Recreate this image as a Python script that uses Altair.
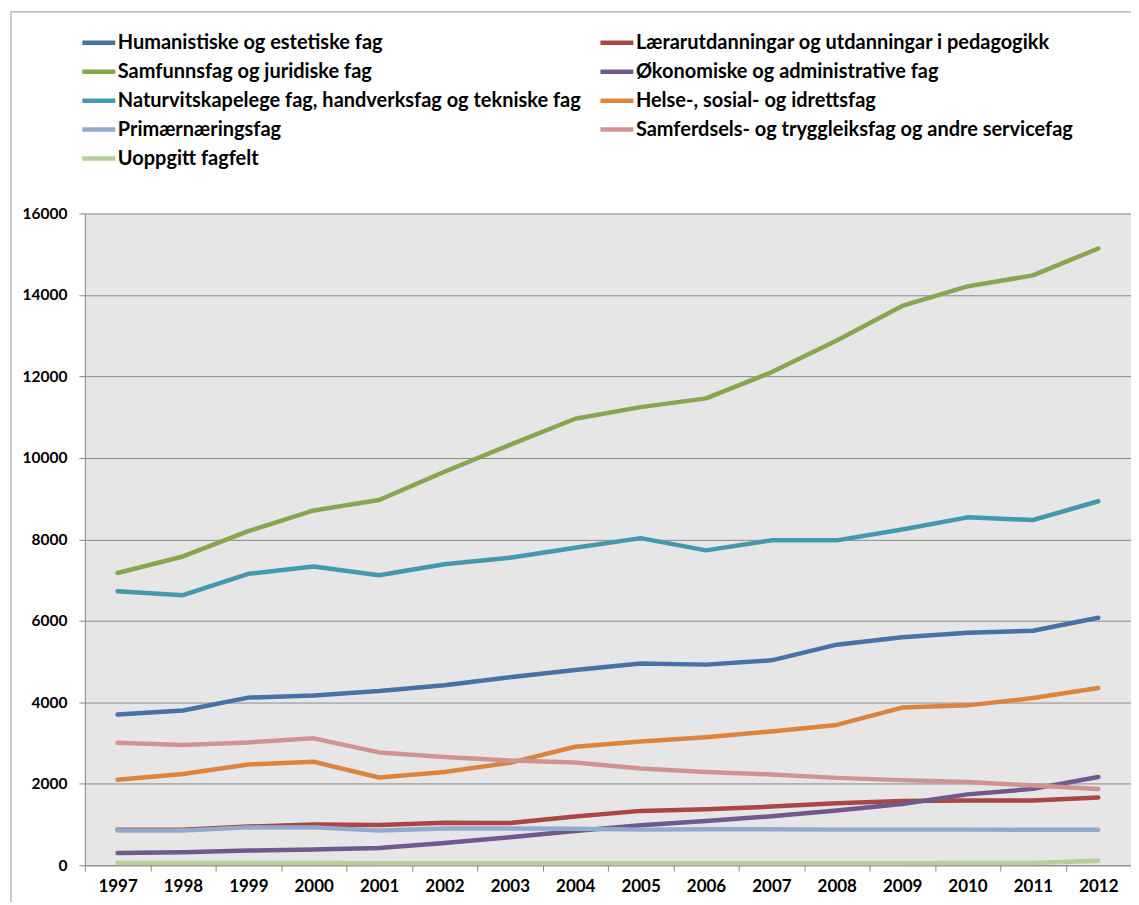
import altair as alt
import pandas as pd

years = [str(y) for y in range(1997, 2013)]

series_names = [
    "Humanistiske og estetiske fag",
    "Lærarutdanningar og utdanningar i pedagogikk",
    "Samfunnsfag og juridiske fag",
    "Økonomiske og administrative fag",
    "Naturvitskapelege fag, handverksfag og tekniske fag",
    "Helse-, sosial- og idrettsfag",
    "Primærnæringsfag",
    "Samferdsels- og tryggleiksfag og andre servicefag",
    "Uoppgitt fagfelt",
]

humanistiske = [3700, 3800, 4115, 4170, 4275, 4420, 4615, 4795, 4955, 4925, 5030, 5415, 5595, 5705, 5755, 6075]
laerar = [875, 875, 950, 1000, 990, 1045, 1035, 1195, 1335, 1375, 1440, 1525, 1580, 1590, 1590, 1665]
samfunnsfag = [7175, 7580, 8200, 8710, 8965, 9660, 10320, 10960, 11245, 11460, 12100, 12880, 13730, 14210, 14480, 15140]
okonomiske = [300, 320, 360, 385, 425, 545, 690, 840, 980, 1085, 1205, 1345, 1505, 1740, 1875, 2165]
naturvit = [6725, 6630, 7155, 7335, 7120, 7390, 7550, 7795, 8030, 7730, 7975, 7975, 8240, 8540, 8475, 8935]
helse = [2100, 2240, 2475, 2540, 2155, 2290, 2515, 2910, 3040, 3145, 3285, 3445, 3870, 3925, 4105, 4350]
primaer = [855, 855, 930, 930, 855, 905, 905, 895, 875, 885, 885, 875, 875, 875, 870, 870]
samferdsel = [3005, 2955, 3015, 3115, 2770, 2655, 2570, 2525, 2375, 2290, 2230, 2145, 2090, 2045, 1960, 1875]
uoppgitt = [55, 55, 55, 55, 50, 50, 50, 50, 50, 50, 50, 50, 50, 55, 55, 110]

series_values = [humanistiske, laerar, samfunnsfag, okonomiske, naturvit, helse, primaer, samferdsel, uoppgitt]

colors = ["#4572A7", "#AA4643", "#89A54E", "#71588F", "#4198AF", "#DB843D", "#93A9CF", "#D19392", "#B9CD96"]
widths = [4.5, 4.5, 6, 4.5, 4.5, 4.5, 4.5, 4.5, 4.5]

y_ticks = list(range(0, 16001, 2000))

rows = []
for i, (name, vals) in enumerate(zip(series_names, series_values)):
    for yr, v in zip(years, vals):
        rows.append({"Year": yr, "Series": name, "Value": v, "idx": i})
df = pd.DataFrame(rows)

FONT = "Lato"

lines = alt.Chart(df).mark_line(strokeCap="round", strokeJoin="round").encode(
    x=alt.X("Year:N", sort=years,
            scale=alt.Scale(type="band", paddingInner=0, paddingOuter=0),
            axis=alt.Axis(title=None, labelAngle=0, tickBand="extent", tickSize=6,
                          labelPadding=7, labelFontSize=17, labelFont=FONT,
                          labelFontWeight="bold", labelColor="black",
                          domainColor="#8a8a8a", tickColor="#8a8a8a", grid=False)),
    y=alt.Y("Value:Q",
            scale=alt.Scale(domain=[0, 16000], nice=False),
            axis=alt.Axis(title=None, values=y_ticks, format="d", tickSize=6,
                          labelPadding=12, labelFontSize=15.5, labelFont=FONT,
                          labelFontWeight="bold", labelColor="black",
                          domainColor="#8a8a8a", tickColor="#8a8a8a",
                          grid=True, gridColor="#8a8a8a", gridWidth=1)),
    color=alt.Color("Series:N", sort=series_names,
                    scale=alt.Scale(domain=series_names, range=colors),
                    legend=alt.Legend(title=None, orient="none", legendX=-5, legendY=-190,
                                      direction="horizontal",
                                      columns=2, columnPadding=10, rowPadding=-2,
                                      symbolType="stroke", symbolSize=1089,
                                      symbolStrokeWidth=4.5, labelOffset=0,
                                      labelFont=FONT, labelFontSize=20,
                                      labelFontWeight="bold", labelColor="black",
                                      labelLimit=0, padding=0)),
    strokeWidth=alt.StrokeWidth("Series:N",
                                scale=alt.Scale(domain=series_names, range=widths),
                                legend=None),
    order=alt.Order("Year:N"),
)

border = alt.Chart(alt.Data(values=[{"a": 1}])).mark_rect(
    fill="white", fillOpacity=0, stroke="#a6a6a6", strokeWidth=1.2
).encode(
    x=alt.value(-74), x2=alt.value(1200),
    y=alt.value(-202), y2=alt.value(900),
)

chart = alt.layer(border, lines).properties(
    width=1048, height=653,
    autosize=alt.AutoSizeParams(type="none"),
    padding={"left": 77, "top": 205, "right": 0, "bottom": 36},
).configure_view(
    fill="#E6E6E6", stroke=None
)

chart.save("out.html", embed_options={"renderer": "svg", "actions": False})
